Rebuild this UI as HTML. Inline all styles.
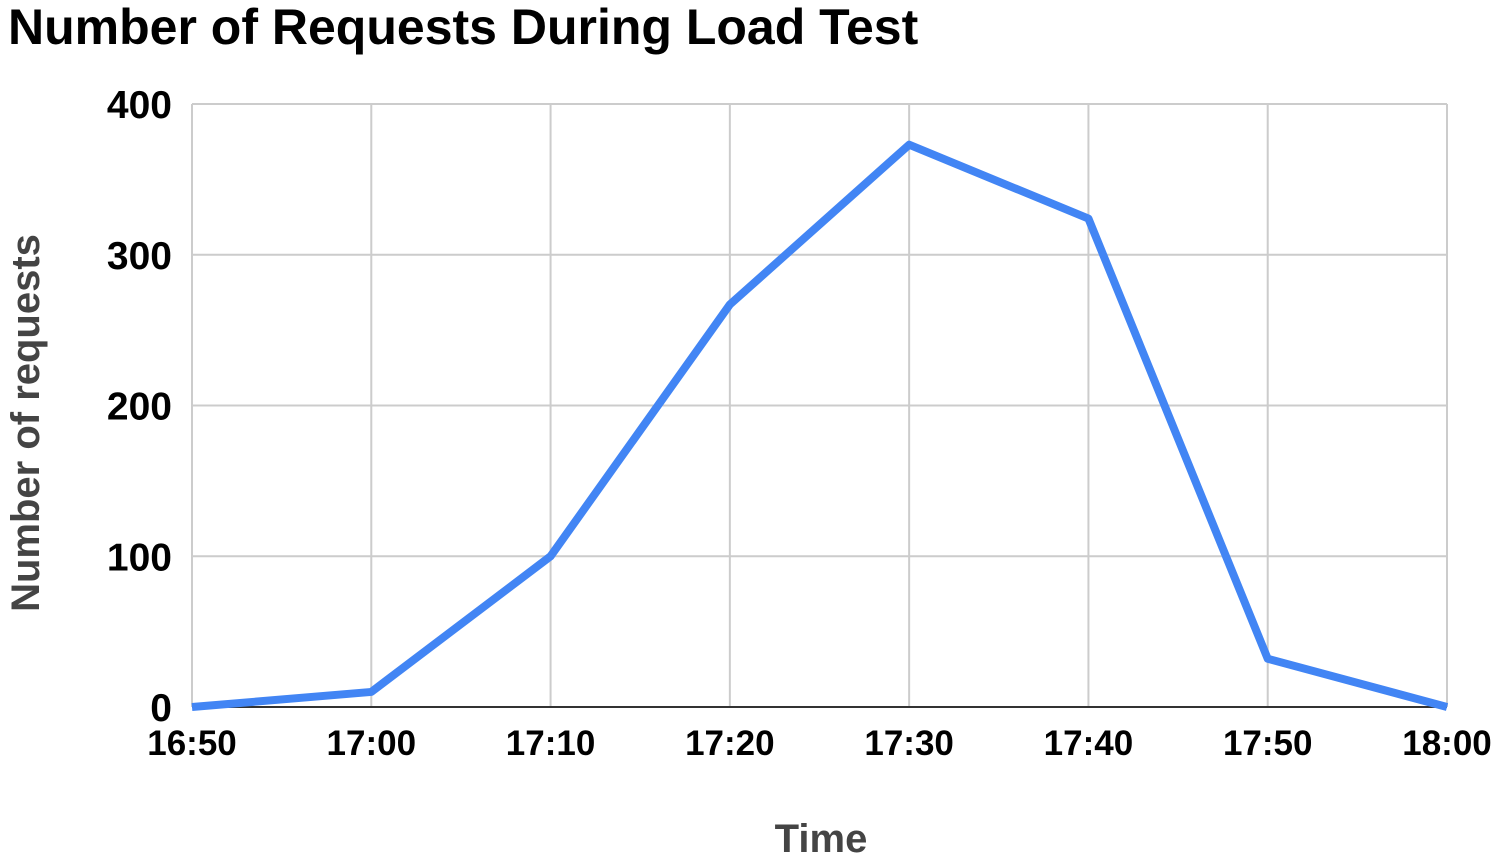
<!DOCTYPE html>
<html><head><meta charset="utf-8"><style>
html,body{margin:0;padding:0;background:#fff;}
svg{display:block;font-family:"Liberation Sans",Arial,sans-serif;}
</style></head><body>
<svg id="chart" width="1496" height="859">
<text x="8" y="44" font-size="50" font-weight="bold" fill="#000">Number of Requests During Load Test</text>
<g id="grid"></g><g id="yticks"></g><g id="xticks"></g><g id="series"></g>
<text x="821" y="852" font-size="40" font-weight="bold" fill="#444" text-anchor="middle">Time</text>
<text transform="translate(39,423) rotate(-90)" font-size="40" font-weight="bold" fill="#444" text-anchor="middle">Number of requests</text>
</svg>
<script>
const categories=["16:50","17:00","17:10","17:20","17:30","17:40","17:50","18:00"];
const requests=[0,10,100,267,373,324,32,0];
const yTicks=[0,100,200,300,400];
const NS="http://www.w3.org/2000/svg";
const x0=192,x1=1447,y0=707,y1=104,yMax=400;
const xs=i=>x0+(x1-x0)*i/(categories.length-1);
const ys=v=>y0-(y0-y1)*v/yMax;
function mk(tag,attrs,parent){const e=document.createElementNS(NS,tag);for(const k in attrs)e.setAttribute(k,attrs[k]);parent.appendChild(e);return e;}
const grid=document.getElementById('grid'),yt=document.getElementById('yticks'),xt=document.getElementById('xticks'),se=document.getElementById('series');
yTicks.forEach(v=>{
 if(v>0){const l=mk('line',{x1:x0,x2:x1,y1:ys(v),y2:ys(v),stroke:'#ccc','stroke-width':2},grid);
 
 }
 const t=mk('text',{x:172,y:ys(v)+14,'font-size':39,'font-weight':'bold','text-anchor':'end',fill:'#000'},yt);t.textContent=v;
 
 
});
categories.forEach((c,i)=>{
 const l=mk('line',{x1:xs(i),x2:xs(i),y1:y1,y2:y0,stroke:'#ccc','stroke-width':2},grid);
 
 
 const t=mk('text',{x:xs(i),y:755,'font-size':35,'font-weight':'bold','text-anchor':'middle',fill:'#000'},xt);t.textContent=c;
 
 
});
const base=mk('line',{x1:x0,x2:x1,y1:y0,y2:y0,stroke:'#333','stroke-width':2},grid);


const p=mk('polyline',{points:requests.map((v,i)=>xs(i)+','+ys(v)).join(' '),fill:'none',stroke:'#4285F4','stroke-width':8,'stroke-linejoin':'round'},se);


</script>
</body></html>
